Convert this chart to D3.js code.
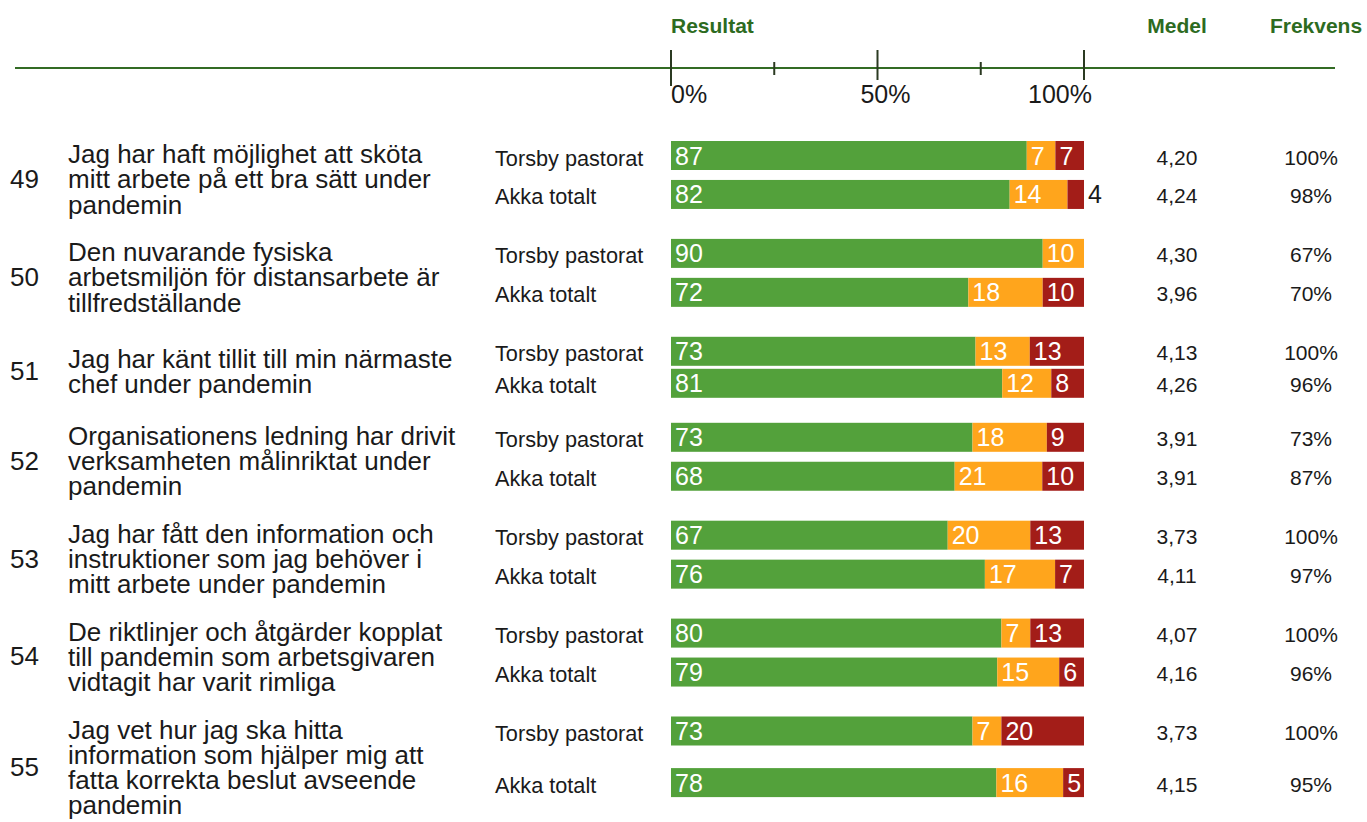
<!DOCTYPE html>
<html>
<head>
<meta charset="utf-8">
<script src="https://cdn.jsdelivr.net/npm/d3@7"></script>
<style>
  body { margin: 0; background: #fff; }
  text { font-family: "Liberation Sans", Arial, sans-serif; }
</style>
</head>
<body>
<div id="chart"></div>
<script>
// frågor
var questionNumbers = [49, 50, 51, 52, 53, 54, 55];
var questionLines = [
    ["Jag har haft möjlighet att sköta", "mitt arbete på ett bra sätt under", "pandemin"],
    ["Den nuvarande fysiska", "arbetsmiljön för distansarbete är", "tillfredställande"],
    ["Jag har känt tillit till min närmaste", "chef under pandemin"],
    ["Organisationens ledning har drivit", "verksamheten målinriktat under", "pandemin"],
    ["Jag har fått den information och", "instruktioner som jag behöver i", "mitt arbete under pandemin"],
    ["De riktlinjer och åtgärder kopplat", "till pandemin som arbetsgivaren", "vidtagit har varit rimliga"],
    ["Jag vet hur jag ska hitta", "information som hjälper mig att", "fatta korrekta beslut avseende", "pandemin"]
];
var groupNames = ["Torsby pastorat", "Akka totalt"];

// [grön, gul, röd] i procent
var torsbyValues = [[87, 7, 7], [90, 10, 0], [73, 13, 13], [73, 18, 9], [67, 20, 13], [80, 7, 13], [73, 7, 20]];
var akkaValues   = [[82, 14, 4], [72, 18, 10], [81, 12, 8], [68, 21, 10], [76, 17, 7], [79, 15, 6], [78, 16, 5]];

var torsbyMedel = [4.20, 4.30, 4.13, 3.91, 3.73, 4.07, 3.73];
var akkaMedel   = [4.24, 3.96, 4.26, 3.91, 4.11, 4.16, 4.15];
var torsbyFrekvens = [100, 67, 100, 73, 100, 100, 100];
var akkaFrekvens   = [98, 70, 96, 87, 97, 96, 95];

var axisTicks = [0, 25, 50, 75, 100];
var axisLabels = [0, 50, 100];

var segmentColors = ["#53a13b", "#ffa51c", "#a31d18"];
var headerGreen = "#2d6b1f";

var width = 1367, height = 822;

var sv = d3.formatLocale({decimal: ",", thousands: " ", grouping: [3], currency: ["", " kr"]});
var fmtMedel = sv.format(".2f");

var x = d3.scaleLinear().domain([0, 100]).range([671, 1084]);
var medelX = 1177, frekvensX = 1311;

var svg = d3.select("#chart").append("svg")
    .attr("width", width)
    .attr("height", height);

svg.append("rect").attr("width", width).attr("height", height).attr("fill", "#fff");

// rubriker
svg.append("text").attr("x", x(0)).attr("y", 33)
    .attr("font-size", 21).attr("font-weight", "bold").attr("fill", headerGreen)
    .text("Resultat");
svg.append("text").attr("x", medelX).attr("y", 33).attr("text-anchor", "middle")
    .attr("font-size", 21).attr("font-weight", "bold").attr("fill", headerGreen)
    .text("Medel");
svg.append("text").attr("x", 1316).attr("y", 33).attr("text-anchor", "middle")
    .attr("font-size", 21).attr("font-weight", "bold").attr("fill", headerGreen)
    .text("Frekvens");

// skala
var axisY = 68;
svg.append("line")
    .attr("x1", 15).attr("x2", 1335)
    .attr("y1", axisY).attr("y2", axisY)
    .attr("stroke", "#336b24").attr("stroke-width", 2);

svg.selectAll(".tick").data(axisTicks).enter().append("line")
    .attr("class", "tick")
    .attr("x1", function(d) { return x(d); })
    .attr("x2", function(d) { return x(d); })
    .attr("y1", function(d) { return d % 50 === 0 ? 50 : 62; })
    .attr("y2", function(d) { return d % 50 === 0 ? (d === 0 ? 86 : 80) : 75; })
    .attr("stroke", "#2b3a22").attr("stroke-width", 2);

svg.selectAll(".tick-label").data(axisLabels).enter().append("text")
    .attr("class", "tick-label")
    .attr("x", function(d) { return d === 0 ? x(d) : x(d) + 8; })
    .attr("y", 103)
    .attr("text-anchor", function(d) { return d === 0 ? "start" : d === 100 ? "end" : "middle"; })
    .attr("font-size", 25).attr("fill", "#1a1a1a")
    .text(function(d) { return d + "%"; });

// layout per fråga
var barH = 29, lineH = 25.3, fontQ = 26;
var cursorY = 141;
var blocks = questionNumbers.map(function(num, i) {
    var lines = questionLines[i];
    var aOff = Math.max(32, lines.length * lineH / 2 + 1);
    var barsSpan = aOff + barH;
    var textSpan = (lines.length - 1) * lineH + 18;
    var y = cursorY;
    cursorY += Math.max(barsSpan + 25, lines.length * lineH + 22);
    var textY = y + 22 + Math.max(0, (barsSpan - textSpan) / 2);
    return {
        num: num,
        lines: lines,
        y: y,
        textY: textY,
        numY: textY - 18.5 + textSpan / 2 + 9,
        rows: [
            {name: groupNames[0], values: torsbyValues[i], medel: torsbyMedel[i], frek: torsbyFrekvens[i], y: y},
            {name: groupNames[1], values: akkaValues[i], medel: akkaMedel[i], frek: akkaFrekvens[i], y: y + aOff}
        ]
    };
});

var block = svg.selectAll(".block").data(blocks).enter().append("g").attr("class", "block");

block.append("text")
    .attr("x", 10).attr("y", function(d) { return d.numY; })
    .attr("font-size", fontQ).attr("fill", "#1a1a1a")
    .text(function(d) { return d.num; });

block.each(function(d) {
    var g = d3.select(this);
    g.selectAll(".qline").data(d.lines).enter().append("text")
        .attr("class", "qline")
        .attr("x", 68)
        .attr("y", function(l, j) { return d.textY + j * lineH; })
        .attr("font-size", fontQ).attr("fill", "#1a1a1a")
        .text(function(l) { return l; });

    var row = g.selectAll(".row").data(d.rows).enter().append("g").attr("class", "row")
        .attr("transform", function(r) { return "translate(0," + r.y + ")"; });

    row.append("text")
        .attr("x", 495).attr("y", barH / 2 + 10)
        .attr("font-size", 21.7).attr("fill", "#1a1a1a")
        .text(function(r) { return r.name; });

    row.append("text")
        .attr("x", medelX).attr("y", barH / 2 + 9).attr("text-anchor", "middle")
        .attr("font-size", 21).attr("fill", "#1a1a1a")
        .text(function(r) { return fmtMedel(r.medel); });

    row.append("text")
        .attr("x", frekvensX).attr("y", barH / 2 + 9).attr("text-anchor", "middle")
        .attr("font-size", 21).attr("fill", "#1a1a1a")
        .text(function(r) { return r.frek + "%"; });

    row.each(function(r) {
        var total = d3.sum(r.values);
        var segs = [], acc = 0;
        r.values.forEach(function(v, k) {
            segs.push({v: v, k: k, x0: acc / total * 100, x1: (acc + v) / total * 100});
            acc += v;
        });
        var rg = d3.select(this);
        rg.selectAll("rect").data(segs.filter(function(s) { return s.v > 0; })).enter().append("rect")
            .attr("x", function(s) { return x(s.x0); })
            .attr("width", function(s) { return x(s.x1) - x(s.x0); })
            .attr("y", 0).attr("height", barH)
            .attr("fill", function(s) { return segmentColors[s.k]; });
        rg.selectAll(".val").data(segs.filter(function(s) { return s.v > 0; })).enter().append("text")
            .attr("class", "val")
            .attr("x", function(s) { return s.v < 5 ? x(s.x1) + 4 : x(s.x0) + 4; })
            .attr("y", barH / 2 + 9)
            .attr("font-size", 25)
            .attr("fill", function(s) { return s.v < 5 ? "#1a1a1a" : "#fff"; })
            .text(function(s) { return s.v; });
    });
});
</script>
</body>
</html>
